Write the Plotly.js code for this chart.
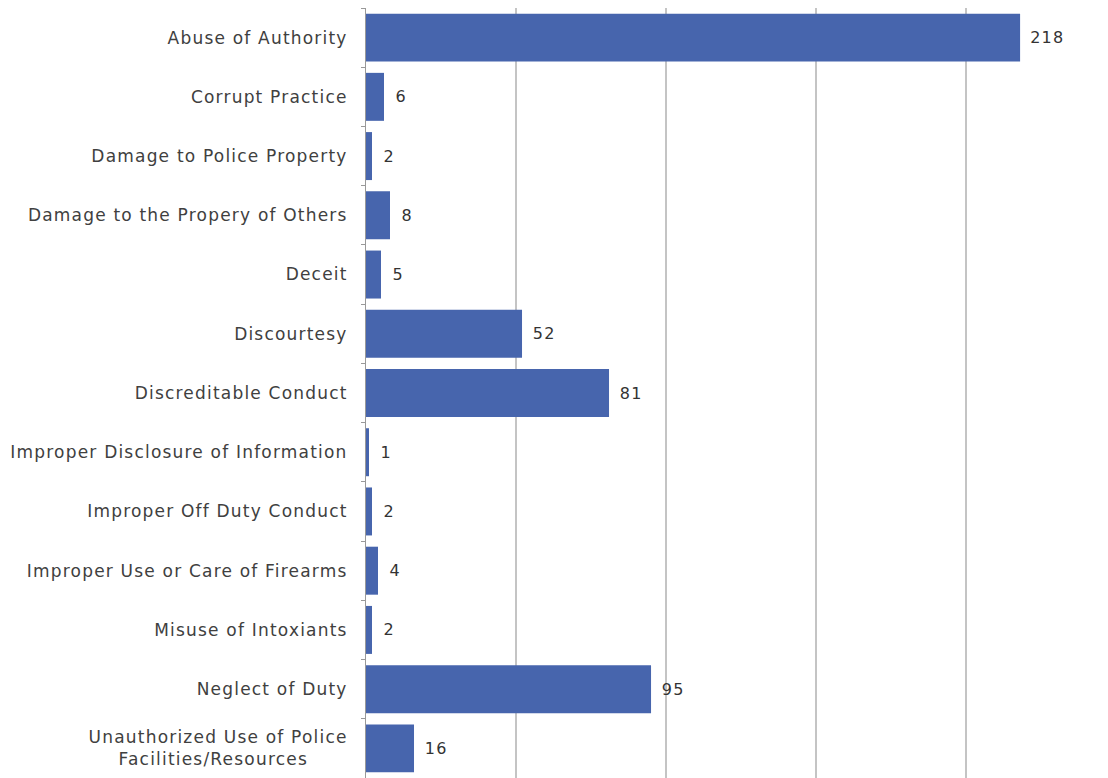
<!DOCTYPE html>
<html>
<head>
<meta charset="utf-8">
<script src="https://cdn.plot.ly/plotly-3.0.1.min.js"></script>
<style>
html,body{margin:0;padding:0;overflow:hidden;background:#fff}
#chart .ytick text, #chart .annotation-text{letter-spacing:1.2px}
</style>
</head>
<body>
<div id="chart" style="width:1108px;height:778px"></div>
<script>
const categories = [
  "Abuse of Authority",
  "Corrupt Practice",
  "Damage to Police Property",
  "Damage to the Propery of Others",
  "Deceit",
  "Discourtesy",
  "Discreditable Conduct",
  "Improper Disclosure of Information",
  "Improper Off Duty Conduct",
  "Improper Use or Care of Firearms",
  "Misuse of Intoxiants",
  "Neglect of Duty",
  "Unauthorized Use of Police<br>Facilities/Resources\u00a0\u00a0\u00a0\u00a0\u00a0\u00a0"
];
const counts = [218, 6, 2, 8, 5, 52, 81, 1, 2, 4, 2, 95, 16];

const fontFamily = "'DejaVu Sans', sans-serif";
const trace = {
  type: 'bar',
  orientation: 'h',
  x: counts,
  y: categories,
  marker: {color: '#4765ad', line: {width: 0}},
  hoverinfo: 'x+y',
  cliponaxis: false
};
const annotations = counts.map((v, i) => ({
  x: v, y: categories[i], xref: 'x', yref: 'y',
  text: String(v), showarrow: false, xanchor: 'left', xshift: 10,
  font: {family: fontFamily, size: 16, color: '#333333'}
}));
const layout = {
  width: 1108, height: 778,
  margin: {l: 366, r: 0, t: 8, b: 0, pad: 0},
  paper_bgcolor: '#ffffff', plot_bgcolor: '#ffffff',
  bargap: 0.19,
  showlegend: false,
  font: {family: fontFamily, size: 17, color: '#404040'},
  xaxis: {
    range: [0, 247.3],
    tickvals: [0, 50, 100, 150, 200, 250],
    showticklabels: false,
    showgrid: true, gridcolor: '#c4c4c4', gridwidth: 2,
    zeroline: false, showline: false, ticks: '', fixedrange: true
  },
  yaxis: {
    type: 'category',
    autorange: 'reversed',
    tickson: 'boundaries',
    ticks: 'outside', ticklen: 4, tickcolor: '#999999', tickwidth: 1,
    showline: true, linecolor: '#999999', linewidth: 1,
    showgrid: false, zeroline: false,
    ticklabelstandoff: 14,
    tickfont: {family: fontFamily, size: 17, color: '#404040'}
  },
  annotations: annotations
};
Plotly.newPlot('chart', [trace], layout, {displayModeBar: false, staticPlot: true});
</script>
</body>
</html>
